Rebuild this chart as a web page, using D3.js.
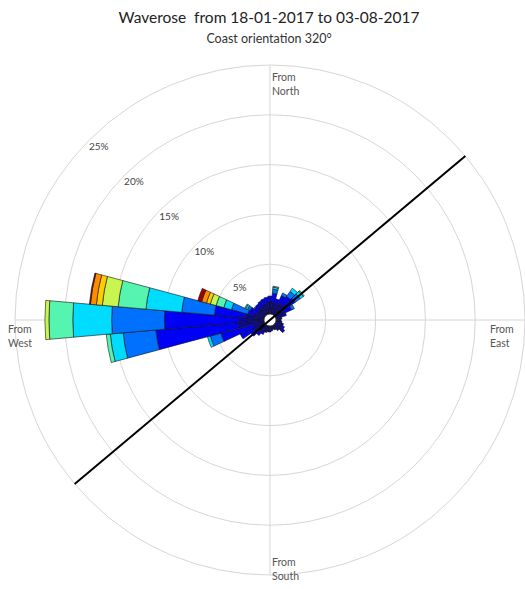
<!DOCTYPE html>
<html>
<head>
<meta charset="utf-8">
<script src="https://cdn.jsdelivr.net/npm/d3@7"></script>
<style>
  html, body { margin: 0; padding: 0; background: #fff; }
  svg { display: block; }
  text { font-family: Lato, "Open Sans", sans-serif; white-space: pre; }
</style>
</head>
<body>
<div id="chart"></div>
<script>
// ---- data ----
const titleText = "Waverose  from 18-01-2017 to 03-08-2017";
const subtitleText = "Coast orientation 320\u00B0";
const coastOrientation = 320;
const directions = d3.range(0, 360, 10); // "from" bearings, 10° bins
const binWidth = 10;
const classNames = ["c1", "c2", "c3", "c4", "c5", "c6", "c7", "c8", "c9"];
const classColors = ["#0a0a8c", "#0000f5", "#0070ff", "#00dcff", "#55f5b0", "#c8f550", "#ffcc00", "#ff8c00", "#a00000"];
//                 0    10   20   30   40   50   60   70   80   90   100  110  120  130  140  150  160  170  180  190  200  210  220  230  240  250  260  270  280  290  300  310  320  330  340  350
const c1 =        [1.2, 1.2, 1.0, 1.2, 1.3, 1.4, 1.0, 0.8, 0.6, 0.5, 0.6, 0.7, 0.8, 0.9, 0.7, 0.5, 0.4, 0.5, 0.6, 0.6, 0.7, 0.8, 0.9, 1.0, 1.2, 1.0, 2.6, 2.5, 1.9, 1.0, 0.8, 0.9, 0.9, 1.0, 1.0, 1.1];
const c2 =        [0.6, 0.9, 0.6, 0.9, 1.0, 1.1, 0.8, 0.3, 0,   0,   0,   0.1, 0.2, 0.3, 0,   0,   0,   0,   0,   0,   0,   0.2, 0.4, 0.7, 1.5, 3.5, 8.3, 7.5, 3.1, 0.7, 0.8, 0.4, 0.5, 0.5, 0.6, 0.6];
const c3 =        [0,   0.4, 0,   0.3, 0.6, 0.6, 0.3, 0,   0,   0,   0,   0,   0,   0,   0,   0,   0,   0,   0,   0,   0,   0,   0,   0,   0,   1.1, 3.3, 5.3, 3.3, 1.7, 0.3, 0.1, 0,   0,   0,   0];
const c4 =        [0,   0.2, 0,   0,   0.4, 0.4, 0,   0,   0,   0,   0,   0,   0,   0,   0,   0,   0,   0,   0,   0,   0,   0,   0,   0,   0,   0.3, 1.3, 3.9, 3.6, 0.8, 0.2, 0,   0,   0,   0,   0];
const c5 =        [0,   0.1, 0,   0,   0,   0.1, 0,   0,   0,   0,   0,   0,   0,   0,   0,   0,   0,   0,   0,   0,   0,   0,   0,   0,   0,   0,   0.4, 2.4, 2.8, 0.8, 0.1, 0,   0,   0,   0,   0];
const c6 =        [0,   0,   0,   0,   0,   0,   0,   0,   0,   0,   0,   0,   0,   0,   0,   0,   0,   0,   0,   0,   0,   0,   0,   0,   0,   0,   0,   0.4, 1.6, 0.6, 0,   0,   0,   0,   0,   0];
const c7 =        [0,   0,   0,   0,   0,   0,   0,   0,   0,   0,   0,   0,   0,   0,   0,   0,   0,   0,   0,   0,   0,   0,   0,   0,   0,   0,   0,   0,   0.6, 0.4, 0,   0,   0,   0,   0,   0];
const c8 =        [0,   0,   0,   0,   0,   0,   0,   0,   0,   0,   0,   0,   0,   0,   0,   0,   0,   0,   0,   0,   0,   0,   0,   0,   0,   0,   0,   0,   0.6, 0.5, 0,   0,   0,   0,   0,   0];
const c9 =        [0,   0,   0,   0,   0,   0,   0,   0,   0,   0,   0,   0,   0,   0,   0,   0,   0,   0,   0,   0,   0,   0,   0,   0,   0,   0,   0,   0,   0.1, 0.4, 0,   0,   0,   0,   0,   0];
const seriesValues = [c1, c2, c3, c4, c5, c6, c7, c8, c9];
const ringTicks = [5, 10, 15, 20, 25];
const ringLabels = ["5%", "10%", "15%", "20%", "25%"];
const compassLabels = [
  { angle: 0, lines: ["From", "North"] },
  { angle: 90, lines: ["From", "East"] },
  { angle: 180, lines: ["From", "South"] },
  { angle: 270, lines: ["From", "West"] }
];

// ---- layout ----
const W = 525, H = 589;
const cx = 270, cy = 320;
const svg = d3.select("#chart").append("svg").attr("width", W).attr("height", H);

const r = d3.scaleLinear().domain([0, 25]).range([6, 255]);
const toRad = d => d * Math.PI / 180;

// title
svg.append("text").attr("x", 269).attr("y", 23).attr("text-anchor", "middle")
  .attr("font-size", 15.5).attr("fill", "#222").text(titleText);
svg.append("text").attr("x", 269).attr("y", 43).attr("text-anchor", "middle")
  .attr("font-size", 12.5).attr("fill", "#333").text(subtitleText);

const g = svg.append("g").attr("transform", `translate(${cx},${cy})`);

// grid
g.selectAll("circle.ring").data(ringTicks).join("circle")
  .attr("class", "ring").attr("r", d => r(d))
  .attr("fill", "none").attr("stroke", "#d6d6d6").attr("stroke-width", 1);
[0, 90].forEach(a => {
  const R = r(25);
  g.append("line")
    .attr("x1", -R * Math.sin(toRad(a))).attr("y1", R * Math.cos(toRad(a)))
    .attr("x2", R * Math.sin(toRad(a))).attr("y2", -R * Math.cos(toRad(a)))
    .attr("stroke", "#d6d6d6").attr("stroke-width", 1);
});

// bars
const arc = d3.arc();
const segs = [];
directions.forEach((dir, i) => {
  let acc = 0;
  seriesValues.forEach((vals, k) => {
    const v = vals[i];
    if (v > 0) {
      segs.push({ dir, k, v0: acc, v1: acc + v });
      acc += v;
    }
  });
});
g.selectAll("path.seg").data(segs).join("path")
  .attr("class", "seg")
  .attr("d", d => arc({
    innerRadius: r(d.v0), outerRadius: r(d.v1),
    startAngle: toRad(d.dir - binWidth / 2), endAngle: toRad(d.dir + binWidth / 2)
  }))
  .attr("fill", d => classColors[d.k])
  .attr("stroke", "#111").attr("stroke-width", 0.6);

// calm hole
g.append("circle").attr("r", r(0)).attr("fill", "#fff").attr("stroke", "#222").attr("stroke-width", 0.8);

// coast line
const cR = r(25);
const a1 = toRad(coastOrientation - 270), a2 = toRad(coastOrientation - 90);
g.append("line")
  .attr("x1", cR * Math.sin(a1)).attr("y1", -cR * Math.cos(a1))
  .attr("x2", cR * Math.sin(a2)).attr("y2", -cR * Math.cos(a2))
  .attr("stroke", "#000").attr("stroke-width", 2);

// ring labels
g.selectAll("text.rl").data(ringTicks).join("text")
  .attr("class", "rl")
  .attr("x", d => r(d) * Math.sin(toRad(315)) + 9)
  .attr("y", d => -r(d) * Math.cos(toRad(315)) + 10)
  .attr("text-anchor", "middle").attr("font-size", 10).attr("fill", "#444")
  .text((d, i) => ringLabels[i]);

// compass labels
const compassPos = { 0: [272, 81], 90: [490, 333], 180: [272, 566], 270: [8, 333] };
compassLabels.forEach(c => {
  const [x, y] = compassPos[c.angle];
  const t = svg.append("text").attr("x", x).attr("y", y).attr("font-size", 10.5).attr("fill", "#555");
  c.lines.forEach((l, i) => t.append("tspan").attr("x", x).attr("dy", i === 0 ? 0 : 14).text(l));
});
</script>
</body>
</html>
